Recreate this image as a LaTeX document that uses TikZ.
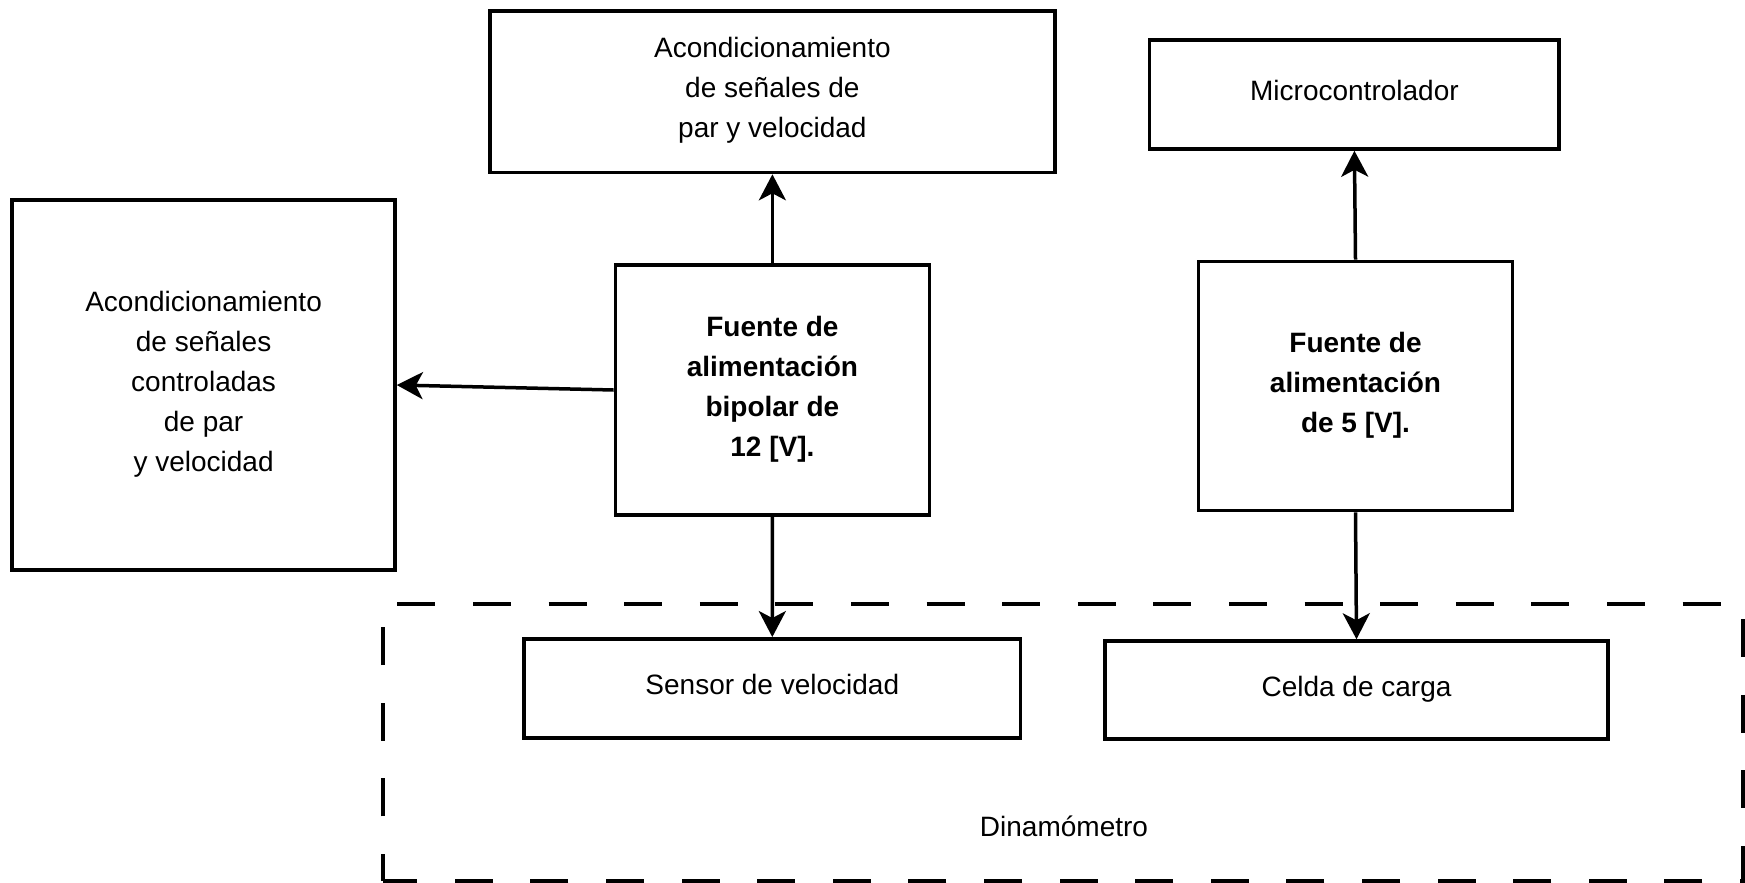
\documentclass[tikz,border=0pt]{standalone}
\usepackage{fontspec}
\setmainfont{Liberation Sans}
\usetikzlibrary{arrows.meta}
\begin{document}
\begin{tikzpicture}[x=1pt,y=-1pt,
  txt/.style={inner sep=0pt,align=center,text height=20pt,text depth=8pt,font=\fontsize{28}{40}\selectfont},
  box/.style={txt,draw,line width=3.5pt},
  bbox/.style={box,font=\fontsize{28}{40}\selectfont\bfseries},
  three/.style={text height=100pt},
  four/.style={text height=140pt},
  five/.style={text height=180pt},
  conn/.style={line width=3.5pt,-{Stealth[length=26pt,width=27pt,inset=7pt]}},
  frame/.style={line width=3.5pt,dash pattern=on 38pt off 37.6pt,dash phase=11pt}]
\useasboundingbox (0,0) rectangle (1745,883);
\draw[frame] (383,881) -- (383,604) -- (1743,604) -- (1743,881) -- cycle;
\node[box,three,minimum width=565pt,minimum height=161.5pt] (acpv) at (772.4,91.8) {Acondicionamiento\\de señales de\\par y velocidad};
\node[box,minimum width=409.6pt,minimum height=109pt] (micro) at (1354.4,94.5) {Microcontrolador};
\node[box,five,minimum width=382.8pt,minimum height=370pt] (acc) at (203.6,385) {Acondicionamiento\\de señales\\controladas\\de par\\y velocidad};
\node[bbox,four,minimum width=314pt,minimum height=250pt] (f12) at (772.4,390) {Fuente de\\alimentación\\bipolar de\\12 [V].};
\node[bbox,three,minimum width=313.8pt,minimum height=249.3pt] (f5) at (1355.5,386) {Fuente de\\alimentación\\de 5 [V].};
\node[box,minimum width=496.5pt,minimum height=99pt] (sens) at (772.3,688.3) {Sensor de velocidad};
\node[box,minimum width=503pt,minimum height=98pt] (celda) at (1356.5,690) {Celda de carga};
\node[txt] (dyn) at (1064,830.5) {Dinamómetro};
\draw[conn] (f12.north) -- (acpv.south);
\draw[conn] (f12.west) -- (acc.east);
\draw[conn] (f12.south) -- (sens.north);
\draw[conn] (f5.north) -- (micro.south);
\draw[conn] (f5.south) -- (celda.north);
\end{tikzpicture}
\end{document}
